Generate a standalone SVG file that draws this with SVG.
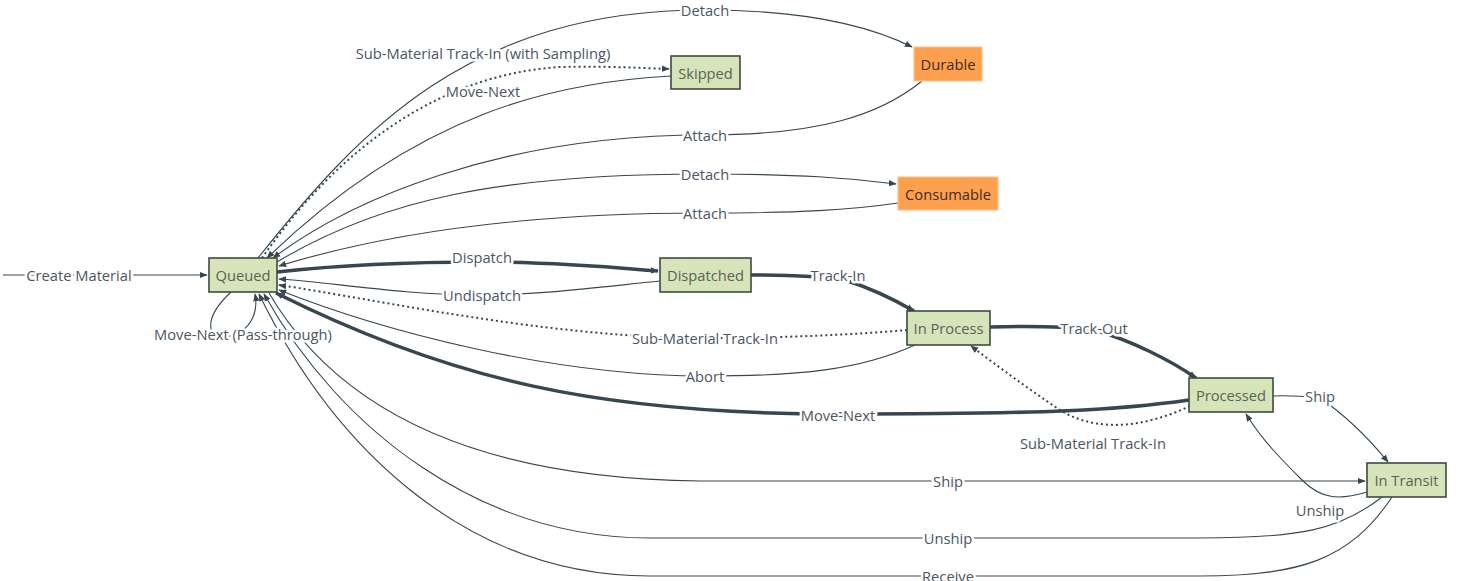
<svg xmlns="http://www.w3.org/2000/svg" width="1465" height="581" viewBox="0 0 1465 581">
<style>
  .e{fill:none;stroke:#37474F;stroke-width:1.1}
  .t{fill:none;stroke:#37474F;stroke-width:3.5}
  .d{fill:none;stroke:#37474F;stroke-width:2;stroke-dasharray:2 3}
  .g{fill:#D6E4BA;stroke:#3f4a3f;stroke-width:1.6}
  .o{fill:#FFA04F;stroke:#FFC08A;stroke-width:1}
  .nt{font-family:"Open Sans","Liberation Sans",sans-serif;font-size:14.7px;fill:#5a6358;text-anchor:middle;dominant-baseline:central}
  .ot{font-family:"Open Sans","Liberation Sans",sans-serif;font-size:14.7px;fill:#3a2e22;text-anchor:middle;dominant-baseline:central}
  .l{font-family:"Open Sans","Liberation Sans",sans-serif;font-size:14.7px;fill:#4B5563;text-anchor:middle;dominant-baseline:central;paint-order:stroke;stroke:#fff;stroke-width:5px;stroke-linejoin:round}
</style>
<defs>
  <marker id="a" viewBox="0 0 10 10" refX="9" refY="5" markerWidth="8" markerHeight="8" markerUnits="userSpaceOnUse" orient="auto">
    <path d="M0,1 L10,5 L0,9 z" fill="#37474F"/>
  </marker>
</defs>
<rect width="1465" height="581" fill="#fff"/>
<g id="connectors">
  <path class="e" d="M3,275 L207,275" marker-end="url(#a)"/>
  <path class="e" d="M258,258 C360,130 470,10 705,10 C800,10 868,25 912,47" marker-end="url(#a)"/>
  <path class="d" d="M262,258 C330,160 430,75 560,67 C610,66 640,68 669,69" marker-end="url(#a)"/>
  <path class="e" d="M671,76 C560,82 420,110 267,258" marker-end="url(#a)"/>
  <path class="e" d="M922,81 C880,115 820,135 705,135 C500,135 350,200 273,258" marker-end="url(#a)"/>
  <path class="e" d="M277,262 C380,200 500,174 705,174 C800,174 850,178 896,184" marker-end="url(#a)"/>
  <path class="e" d="M898,203 C850,210 800,213 705,213 C520,213 380,235 279,266" marker-end="url(#a)"/>
  <path class="t" d="M277,272 C340,265 400,262 482,262 C560,262 620,268 658,271" marker-end="url(#a)"/>
  <path class="e" d="M660,281 C600,287 540,295 482,295 C400,295 330,282 279,279" marker-end="url(#a)"/>
  <path class="t" d="M751,275 C790,275 820,276 845,280 C870,288 895,300 914,311" marker-end="url(#a)"/>
  <path class="t" d="M990,327 C1030,326 1070,327 1094,330 C1130,340 1170,360 1196,378" marker-end="url(#a)"/>
  <path class="d" d="M907,330 C850,335 780,338 705,338 C550,338 380,300 279,285" marker-end="url(#a)"/>
  <path class="e" d="M915,345 C860,370 800,376 705,376 C550,376 380,330 279,290" marker-end="url(#a)"/>
  <path class="t" d="M1189,400 C1120,410 1050,414 838,414 C600,414 450,380 276,293" marker-end="url(#a)"/>
  <path class="d" d="M1190,406 C1150,425 1100,435 1060,410 C1030,390 1000,368 971,346" marker-end="url(#a)"/>
  <path class="e" d="M1273,396 C1290,395 1300,396 1320,398 C1345,415 1370,440 1388,462" marker-end="url(#a)"/>
  <path class="e" d="M1367,492 C1340,500 1322,500 1302,480 C1282,460 1262,440 1246,414" marker-end="url(#a)"/>
  <path class="e" d="M269,293 C320,380 430,478 700,481 L1365,481" marker-end="url(#a)"/>
  <path class="e" d="M1382,497 C1340,530 1300,538 1200,538 L650,538 C480,538 340,430 264,294" marker-end="url(#a)"/>
  <path class="e" d="M1392,497 C1350,560 1300,576 1200,576 L650,576 C460,576 330,440 259,294" marker-end="url(#a)"/>
  <path class="e" d="M231,292 C214,308 208,322 212,332 C225,345 262,330 255,294" marker-end="url(#a)"/>
</g>
<g id="labels">
  <text class="l" x="79" y="275">Create Material</text>
  <text class="l" x="705" y="10">Detach</text>
  <text class="l" x="483" y="53">Sub-Material Track-In (with Sampling)</text>
  <text class="l" x="483" y="91">Move-Next</text>
  <text class="l" x="705" y="135">Attach</text>
  <text class="l" x="705" y="174">Detach</text>
  <text class="l" x="705" y="213">Attach</text>
  <text class="l" x="482" y="257">Dispatch</text>
  <text class="l" x="482" y="295">Undispatch</text>
  <text class="l" x="838" y="275">Track-In</text>
  <text class="l" x="243" y="334">Move-Next (Pass-through)</text>
  <text class="l" x="705" y="338">Sub-Material Track-In</text>
  <text class="l" x="1094" y="328">Track-Out</text>
  <text class="l" x="705" y="376">Abort</text>
  <text class="l" x="1320" y="396">Ship</text>
  <text class="l" x="838" y="415">Move-Next</text>
  <text class="l" x="1093" y="443">Sub-Material Track-In</text>
  <text class="l" x="948" y="481">Ship</text>
  <text class="l" x="1320" y="510">Unship</text>
  <text class="l" x="948" y="538">Unship</text>
  <text class="l" x="948" y="576">Receive</text>
</g>
<g id="queued"><rect class="g" x="209" y="258" width="68" height="34"/><text class="nt" x="243" y="275">Queued</text></g>
<g id="skipped"><rect class="g" x="671" y="56" width="69" height="33"/><text class="nt" x="705.5" y="72.5">Skipped</text></g>
<g id="durable"><rect class="o" x="914" y="47" width="68" height="34"/><text class="ot" x="948" y="64">Durable</text></g>
<g id="consumable"><rect class="o" x="898" y="177" width="100" height="33"/><text class="ot" x="948" y="193.5">Consumable</text></g>
<g id="dispatched"><rect class="g" x="660" y="258" width="91" height="34"/><text class="nt" x="705.5" y="275">Dispatched</text></g>
<g id="inprocess"><rect class="g" x="907" y="311" width="83" height="34"/><text class="nt" x="948.5" y="328">In Process</text></g>
<g id="processed"><rect class="g" x="1189" y="378" width="84" height="34"/><text class="nt" x="1231" y="395">Processed</text></g>
<g id="intransit"><rect class="g" x="1367" y="463" width="79" height="34"/><text class="nt" x="1406.5" y="480">In Transit</text></g>
</svg>
